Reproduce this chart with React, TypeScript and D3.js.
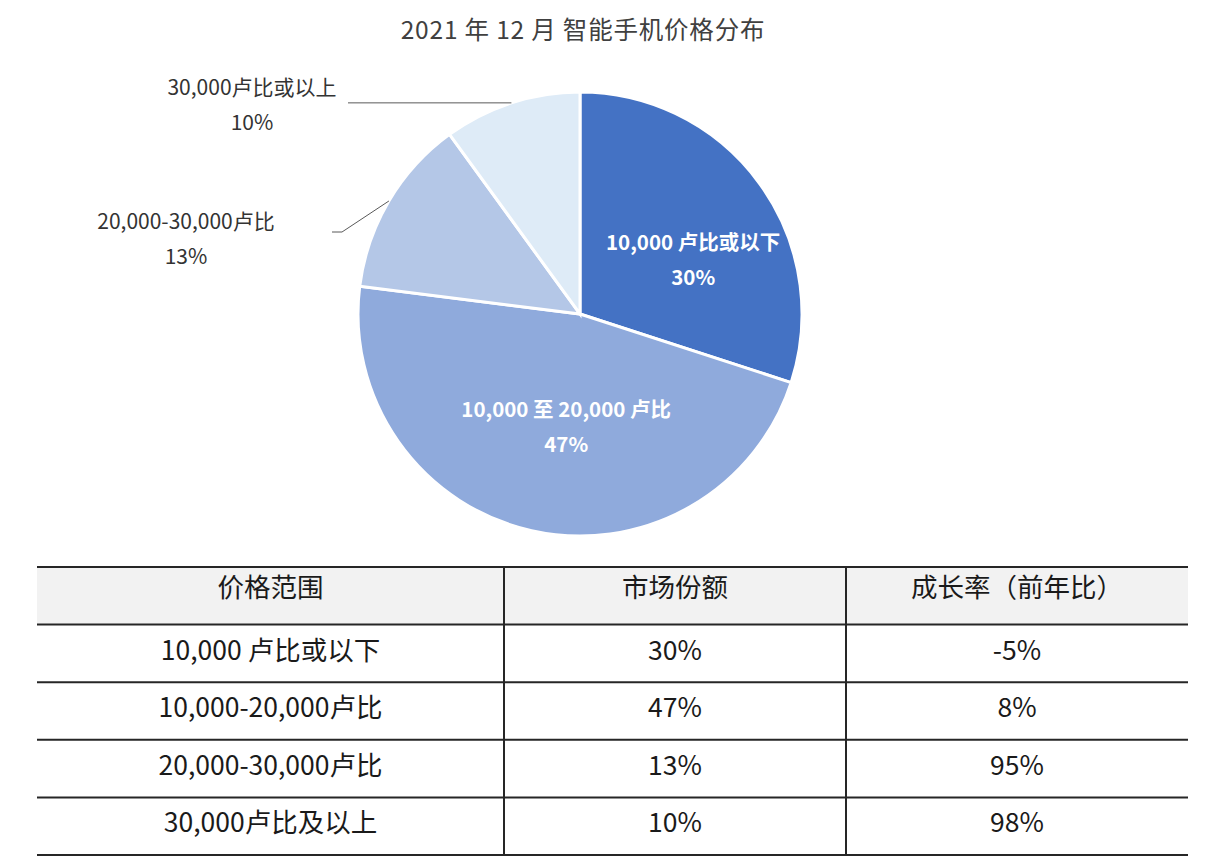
import { useMemo } from 'react'
import * as d3 from 'd3'

const WIDTH = 1218
const HEIGHT = 868
const FONT = '"Noto Sans CJK SC", "Noto Sans", sans-serif'

const title = '2021 年 12 月 智能手机价格分布'

const sliceNames = ['10,000 卢比或以下', '10,000 至 20,000 卢比', '20,000-30,000卢比', '30,000卢比或以上']
const sliceValues = [30, 47, 13, 10]
const sliceColors = ['#4472C4', '#8FAADC', '#B4C7E7', '#DEEBF7']
const insideLabel = [true, true, false, false]

const tableHeader = ['价格范围', '市场份额', '成长率（前年比）']
const rowRanges = ['10,000 卢比或以下', '10,000-20,000卢比', '20,000-30,000卢比', '30,000卢比及以上']
const rowShares = ['30%', '47%', '13%', '10%']
const rowGrowth = ['-5%', '8%', '95%', '98%']

const CX = 580
const CY = 314
const R = 222

export default function App() {
  const arcs = useMemo(
    () =>
      d3
        .pie<number>()
        .sort(null)
        .value((d) => d)(sliceValues),
    []
  )
  const arcGen = d3.arc<d3.PieArcDatum<number>>().innerRadius(0).outerRadius(R)
  const labelArc = d3.arc<d3.PieArcDatum<number>>().innerRadius(0).outerRadius(255)

  // callouts for the two small slices on the left
  const outerPos: Record<number, { tx: number; ty: number; pts: [number, number][] }> = {}
  arcs.forEach((a, i) => {
    if (insideLabel[i]) return
    const mid = (a.startAngle + a.endAngle) / 2
    const ex = CX + R * Math.sin(mid)
    const ey = CY - R * Math.cos(mid)
    if (i === 3) {
      outerPos[i] = { tx: 252, ty: 88, pts: [[ex, ey], [348, ey]] }
    } else {
      outerPos[i] = { tx: 186, ty: 222, pts: [[ex, ey], [342, 232], [332, 232]] }
    }
  })

  const tableLeft = 37
  const tableRight = 1188
  const colEdges = [tableLeft, 504, 846, tableRight]
  const rowY = d3.range(6).map((i) => 567 + i * 57.6)
  const rows = rowRanges.map((r, i) => [r, rowShares[i], rowGrowth[i]])
  const line = d3.line()

  return (
    <svg width={WIDTH} height={HEIGHT} style={{ position: 'absolute', left: 0, top: 0, background: '#fff' }}>
      <text x={583} y={39} textAnchor="middle" fontFamily={FONT} fontSize={24.5} fill="#404040" letterSpacing={0.8}>
        {title}
      </text>

      <g transform={`translate(${CX}, ${CY})`}>
        {arcs.map((a, i) => (
          <path key={i} d={arcGen(a) ?? ''} fill={sliceColors[i]} stroke="#fff" strokeWidth={3} />
        ))}
        {arcs.map((a, i) => {
          if (!insideLabel[i]) return null
          const [lx, ly] = labelArc.centroid(a)
          const nx = i === 0 ? 10 : 14
          const ny = i === 0 ? 21 : -11
          return (
            <text
              key={i}
              x={lx + nx}
              y={ly + ny}
              textAnchor="middle"
              fontFamily={FONT}
              fontSize={20.5}
              fontWeight="bold"
              fill="#fff"
            >
              <tspan x={lx + nx} dy={-10}>
                {sliceNames[i]}
              </tspan>
              <tspan x={lx + nx} dy={35}>
                {sliceValues[i]}%
              </tspan>
            </text>
          )
        })}
      </g>

      {Object.entries(outerPos).map(([k, p]) => {
        const i = Number(k)
        return (
          <g key={k}>
            <path d={line(p.pts) ?? ''} fill="none" stroke="#595959" strokeWidth={1} />
            <text x={p.tx} y={p.ty + 7} textAnchor="middle" fontFamily={FONT} fontSize={21} fill="#333">
              {sliceNames[i]}
            </text>
            <text x={p.tx} y={p.ty + 42} textAnchor="middle" fontFamily={FONT} fontSize={21} fill="#333">
              {sliceValues[i]}%
            </text>
          </g>
        )
      })}

      <rect x={tableLeft} y={rowY[0]} width={tableRight - tableLeft} height={rowY[1] - rowY[0]} fill="#F2F2F2" />
      {rowY.map((y, i) => (
        <line key={i} x1={tableLeft} x2={tableRight} y1={y} y2={y} stroke="#262626" strokeWidth={2} />
      ))}
      {colEdges.slice(1, 3).map((x, i) => (
        <line key={i} x1={x} x2={x} y1={rowY[0]} y2={rowY[5]} stroke="#262626" strokeWidth={2} />
      ))}
      {tableHeader.map((h, c) => (
        <text
          key={c}
          x={(colEdges[c] + colEdges[c + 1]) / 2}
          y={rowY[0] + 30}
          textAnchor="middle"
          fontFamily={FONT}
          fontSize={26.5}
          fill="#1a1a1a"
        >
          {h}
        </text>
      ))}
      {rows.map((r, ri) =>
        r.map((cell, c) => (
          <text
            key={`${ri}-${c}`}
            x={(colEdges[c] + colEdges[c + 1]) / 2}
            y={rowY[ri + 1] + 35}
            textAnchor="middle"
            fontFamily={FONT}
            fontSize={26.5}
            fill="#1a1a1a"
          >
            {cell}
          </text>
        ))
      )}
    </svg>
  )
}
